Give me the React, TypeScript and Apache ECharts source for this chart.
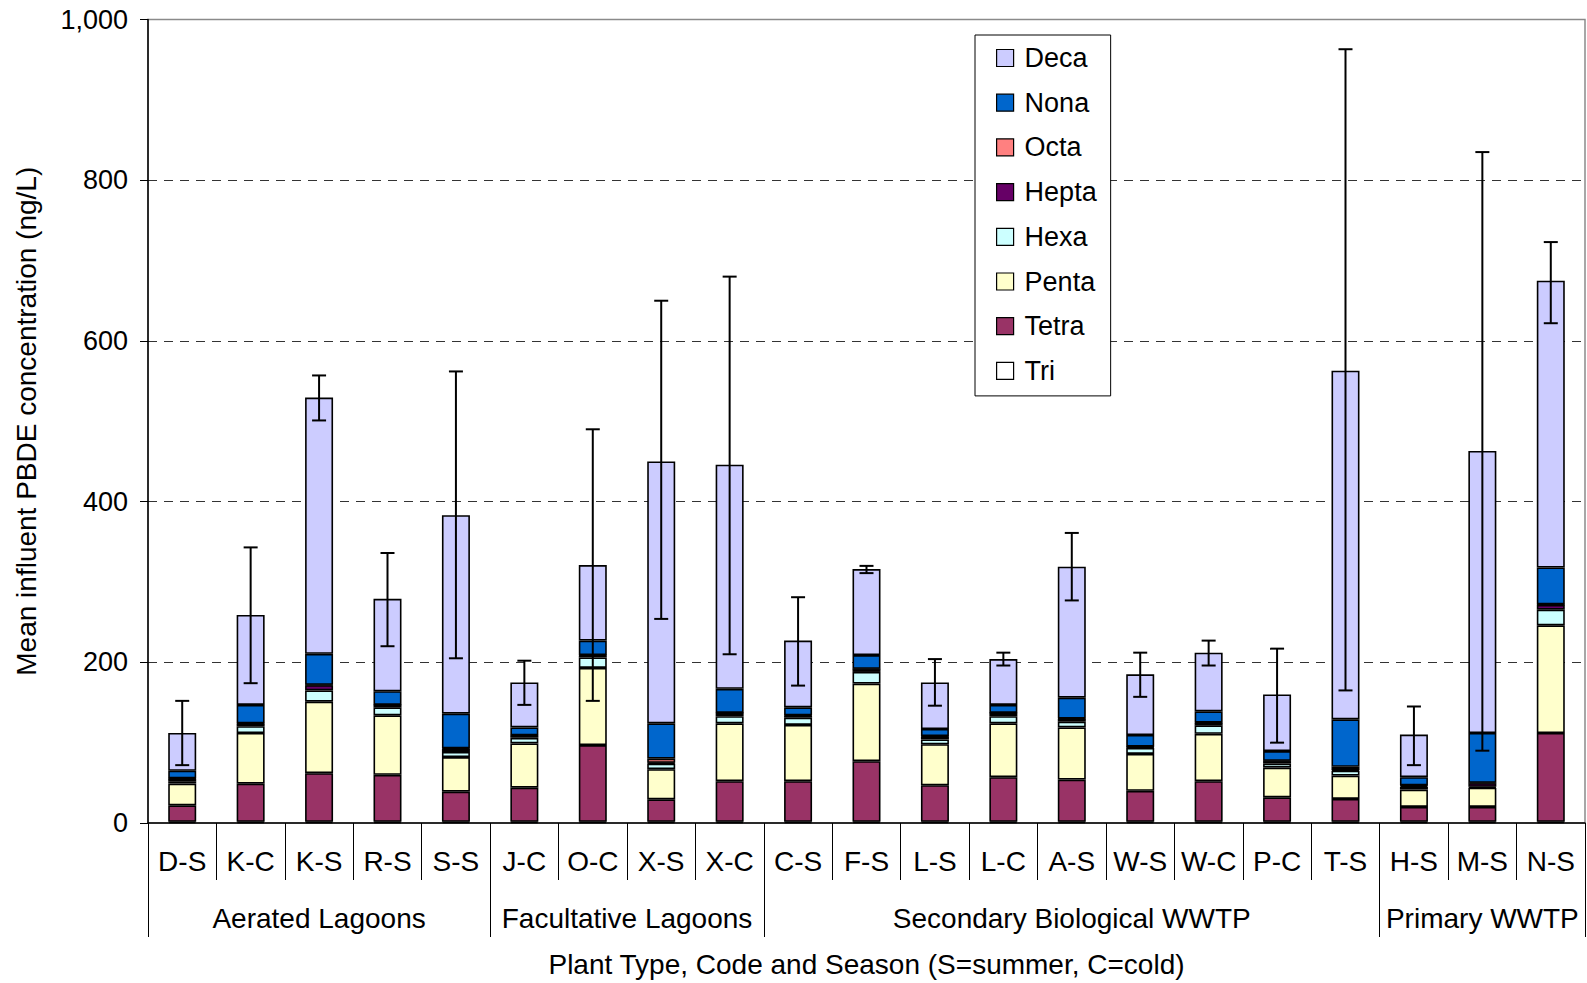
import React, { useEffect, useRef } from "react";
import * as echarts from "echarts";

const categories = ["D-S","K-C","K-S","R-S","S-S","J-C","O-C","X-S","X-C","C-S","F-S","L-S","L-C","A-S","W-S","W-C","P-C","T-S","H-S","M-S","N-S"];
const groupNames = ["Aerated Lagoons","Facultative Lagoons","Secondary Biological WWTP","Primary WWTP"];
const groupCenters = [2.5, 7, 13.5, 19.5];
const groupBounds = [0, 5, 9, 18, 21];
const yTicks = [0, 200, 400, 600, 800, 1000];

const tri   = [1.5,1.5,1.5,1.5,1.5,1.5,1.5,1.5,1.5,1.5,1.5,1.5,1.5,1.5,1.5,1.5,1.5,1.5,1.5,1.5,1.5];
const tetra = [20.5,47.5,60.5,58.5,37.5,42.5,95.5,28,50.5,50.5,75.5,45.5,55.5,52.5,38.5,50.5,30.5,28.5,18.5,18.5,110.5];
const penta = [27,63,89,74,43,55,96,37.5,72,70,96.5,51,67,65,46,59,37,29,21.5,24,134];
const hexa  = [3,8.5,14,10,6.5,7,13,7,9,9,14.5,6,9,7,7.5,10.5,5,6,3.5,1,19.5];
const hepta = [3,3,6.5,2.5,4,2.5,2.5,1,3.5,2.5,3.5,3.5,3.5,3.5,1,3,3,1,1.5,4.5,6];
const octa  = [0.5,0.5,0.5,0.5,0.5,0.5,0.5,5,0.5,0.5,0.5,0.5,0.5,0.5,0.5,0.5,0.5,4,0.5,0.5,0.5];
const nona  = [9.5,23,38.5,17,43,10,18,44,30,10,17,9,10,26,14.5,14,12,59,10,62,46];
const deca  = [47,112,319,115,247,56,94,326,279,83,107,58,57,163,75.5,73,70.5,434,53,351,357];
const errHigh = [152,343,557,336,562,202,490,650,680,281,320,204,212,361,212,227,217,963,145,835,723];
const errLow  = [72,174,501,220,205,147,152,254,210,171,311,146,196,277,157,196,100,165,72,90,622];

const seriesDefs = [
  { name: "Tri", data: tri, color: "#FFFFFF" },
  { name: "Tetra", data: tetra, color: "#993366" },
  { name: "Penta", data: penta, color: "#FFFFCC" },
  { name: "Hexa", data: hexa, color: "#CCFFFF" },
  { name: "Hepta", data: hepta, color: "#660066" },
  { name: "Octa", data: octa, color: "#FF8080" },
  { name: "Nona", data: nona, color: "#0066CC" },
  { name: "Deca", data: deca, color: "#CCCCFF" },
];
const legendOrder = ["Deca","Nona","Octa","Hepta","Hexa","Penta","Tetra","Tri"];

const FONT = "'Liberation Sans', Arial, sans-serif";

export default function App() {
  const ref = useRef<HTMLDivElement>(null);
  useEffect(() => {
    if (!ref.current) return;
    const chart = echarts.init(ref.current, null, { renderer: "svg" });
    const barSeries = seriesDefs.map((s) => ({
      name: s.name,
      type: "bar",
      stack: "total",
      barWidth: 28,
      data: s.data,
      itemStyle: { color: s.color, borderColor: "#000", borderWidth: 1.6 },
      emphasis: { disabled: true },
      z: 2,
    }));
    const errData = categories.map((_, i) => [i, errLow[i], errHigh[i]]);
    const option: any = {
      animation: false,
      backgroundColor: "#fff",
      textStyle: { fontFamily: FONT },
      grid: {
        left: 148, right: 2, top: 19.5, bottom: 160,
        show: true, borderColor: "#8a8a8a", borderWidth: 1.5,
        containLabel: false, outerBoundsMode: "none",
      },
      legend: {
        orient: "vertical",
        left: 975, top: 35,
        data: legendOrder,
        backgroundColor: "#fff",
        borderColor: "#000",
        borderWidth: 1,
        borderRadius: 0,
        padding: [9, 14, 11, 21],
        itemWidth: 17, itemHeight: 17,
        itemGap: 16.7,
        icon: "rect",
        itemStyle: { borderColor: "#000", borderWidth: 1.2 },
        textStyle: { fontSize: 27, lineHeight: 28, color: "#000", fontFamily: FONT, padding: [0, 0, 0, 6] },
        selectedMode: false,
      },
      xAxis: [
        {
          type: "category",
          data: categories,
          position: "bottom",
          axisLine: { lineStyle: { color: "#000", width: 1.5 } },
          axisTick: { show: true, interval: 0, alignWithLabel: false, length: 57, lineStyle: { color: "#000", width: 1 } },
          axisLabel: { interval: 0, fontSize: 28, color: "#000", margin: 24, fontFamily: FONT },
          splitLine: { show: false },
        },
        {
          type: "value",
          min: 0, max: 21,
          position: "bottom",
          offset: 57,
          axisLine: { show: false },
          axisTick: { show: true, customValues: groupBounds, length: 57, lineStyle: { color: "#000", width: 1 } },
          axisLabel: {
            show: true,
            customValues: groupCenters,
            fontSize: 28, color: "#000", margin: 24, fontFamily: FONT,
            formatter: (v: number) => {
              const k = groupCenters.indexOf(v);
              return k >= 0 ? groupNames[k] : "";
            },
          },
          splitLine: { show: false },
          name: "Plant Type, Code and Season (S=summer, C=cold)",
          nameLocation: "middle",
          nameGap: 70,
          nameTextStyle: { fontSize: 28, color: "#000", fontFamily: FONT },
        },
      ],
      yAxis: {
        type: "value",
        min: 0, max: 1000, interval: 200,
        axisLine: { show: true, lineStyle: { color: "#000", width: 1.5 } },
        axisTick: { show: true, length: 8, inside: false, lineStyle: { color: "#000" } },
        axisLabel: {
          fontSize: 27, color: "#000", margin: 20, fontFamily: FONT,
          customValues: yTicks,
          formatter: (v: number) => v.toLocaleString("en-US"),
        },
        splitLine: { show: true, showMaxLine: false, showMinLine: false, lineStyle: { color: "#333", type: [9, 7], width: 1 } },
        name: "Mean influent PBDE concentration (ng/L)",
        nameLocation: "middle",
        nameGap: 108,
        nameTextStyle: { fontSize: 28, color: "#000", fontFamily: FONT },
      },
      series: [
        ...barSeries,
        {
          type: "custom",
          xAxisIndex: 0,
          yAxisIndex: 0,
          data: errData,
          encode: { x: 0, y: [1, 2] },
          z: 10,
          silent: true,
          renderItem: (_params: any, api: any) => {
            const x = api.value(0);
            const lo = api.coord([x, api.value(1)]);
            const hi = api.coord([x, api.value(2)]);
            const w = 7;
            const st = { stroke: "#000", lineWidth: 2 };
            return {
              type: "group",
              children: [
                { type: "line", shape: { x1: lo[0], y1: lo[1], x2: hi[0], y2: hi[1] }, style: st },
                { type: "line", shape: { x1: hi[0] - w, y1: hi[1], x2: hi[0] + w, y2: hi[1] }, style: st },
                { type: "line", shape: { x1: lo[0] - w, y1: lo[1], x2: lo[0] + w, y2: lo[1] }, style: st },
              ],
            };
          },
        },
      ],
    };
    chart.setOption(option);
    return () => chart.dispose();
  }, []);
  return (
    <div
      ref={ref}
      style={{ position: "fixed", left: 0, top: 0, width: 1587, height: 983, background: "#fff" }}
    />
  );
}
